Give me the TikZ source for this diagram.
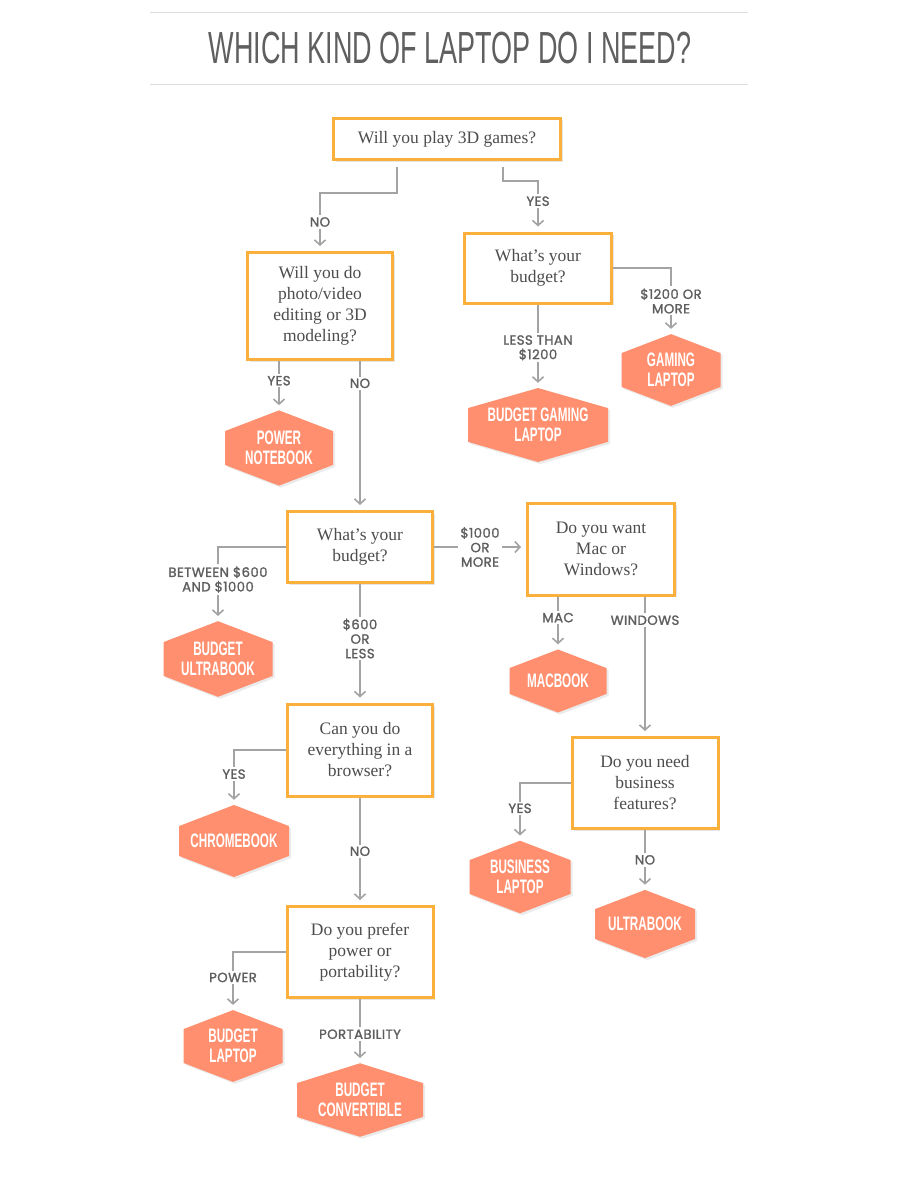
\documentclass[tikz,border=0pt]{standalone}
\usepackage{fontspec}
\setmainfont{Liberation Serif}
\newfontfamily\condfont[FakeStretch=0.6]{Liberation Sans}
\newfontfamily\lblfont[FakeBold=1.4,LetterSpace=3]{Poppins}
\usetikzlibrary{arrows.meta,positioning,shapes.symbols,shadows}
\definecolor{boxorange}{HTML}{FBB03B}
\definecolor{hexsalmon}{HTML}{FF8F6E}
\definecolor{linegray}{HTML}{A3A3A3}
\definecolor{txtgray}{HTML}{4D4D4D}
\definecolor{lblgray}{HTML}{5E5E5E}
\definecolor{rulegray}{HTML}{DDDDDD}

\begin{document}
\begin{tikzpicture}[x=1pt,y=-1pt,>={Straight Barb[length=5pt,width=11pt]},
  qbox/.style={draw=boxorange,line width=3pt,fill=white,align=center,text=txtgray,
    font=\fontsize{17.5}{21}\selectfont,inner sep=0pt,
    drop shadow={shadow xshift=2pt,shadow yshift=-2pt,fill=black!10,opacity=1}},
  hexa/.style={signal,signal to=north and south,signal pointer angle=138,fill=hexsalmon,
    text=white,align=center,font=\condfont\bfseries\fontsize{19.5}{20}\selectfont,
    inner xsep=0pt,inner ysep=0pt,minimum height=0pt,
    drop shadow={shadow xshift=2pt,shadow yshift=-2pt,fill=black!8,opacity=1}},
  lbl/.style={fill=white,text=lblgray,align=center,font=\lblfont\fontsize{13.3}{14.5}\selectfont,inner sep=2pt},
  conn/.style={draw=linegray,line width=1.6pt,->,shorten >=5pt}]
\useasboundingbox[fill=white] (0,0) rectangle (900,1180);

% title
\draw[rulegray,line width=0.8pt] (150,12) -- (748,12);
\draw[rulegray,line width=0.8pt] (150,84) -- (748,84);
\node[text=txtgray!90,font=\condfont\fontsize{45}{45}\selectfont] (title) at (450,48) {WHICH KIND OF LAPTOP DO I NEED?};

% questions
\node[qbox,minimum width=227pt,minimum height=41pt] (games) at (447,139) {Will you play 3D games?};
\node[qbox,minimum width=145pt,minimum height=107pt] (editing) at (320,306) {Will you do\\photo/video\\editing or 3D\\modeling?};
\node[qbox,minimum width=147pt,minimum height=70pt] (gbudget) at (538,268) {What’s your\\budget?};
\node[qbox,minimum width=145pt,minimum height=71pt] (budget) at (360,547) {What’s your\\budget?};
\node[qbox,minimum width=147pt,minimum height=92pt] (macwin) at (601,549) {Do you want\\Mac or\\Windows?};
\node[qbox,minimum width=145pt,minimum height=92pt] (browser) at (360,750) {Can you do\\everything in a\\browser?};
\node[qbox,minimum width=146pt,minimum height=91pt] (business) at (645,783) {Do you need\\business\\features?};
\node[qbox,minimum width=146pt,minimum height=91pt] (portab) at (360,952) {Do you prefer\\power or\\portability?};

% answers
\node[hexa,minimum width=99pt] (gaming) at (671,370) {GAMING\\LAPTOP};
\node[hexa,minimum width=140pt,signal pointer angle=148] (bgaming) at (538,425) {BUDGET GAMING\\LAPTOP};
\node[hexa,minimum width=108pt] (power) at (279,448) {POWER\\NOTEBOOK};
\node[hexa,minimum width=109pt] (bultra) at (218,659) {BUDGET\\ULTRABOOK};
\node[hexa,minimum width=97pt,inner ysep=6pt] (macbook) at (558,681) {MACBOOK};
\node[hexa,minimum width=110pt,inner ysep=8pt] (chrome) at (234,841) {CHROMEBOOK};
\node[hexa,minimum width=101pt] (blaptop) at (520,877) {BUSINESS\\LAPTOP};
\node[hexa,minimum width=100pt,inner ysep=8pt] (ultra) at (645,924) {ULTRABOOK};
\node[hexa,minimum width=99pt] (budlaptop) at (233,1046) {BUDGET\\LAPTOP};
\node[hexa,minimum width=126pt,signal pointer angle=145] (bconv) at (360,1100) {BUDGET\\CONVERTIBLE};

% connectors
\draw[conn,shorten <=6pt] ([xshift=-50pt]games.south) -- ++(0,32) -| node[lbl,pos=0.75]{NO} (editing);
\draw[conn,shorten <=6pt] ([xshift=56pt]games.south) -- ++(0,20) -| node[lbl,pos=0.7]{YES} (gbudget);
\draw[conn] (gbudget.east) -| node[lbl,pos=0.75]{\$1200 OR\\MORE} (gaming);
\draw[conn] (gbudget) -- node[lbl,pos=0.52]{LESS THAN\\\$1200} (bgaming);
\draw[conn] (editing.south -| power) -- node[lbl,pos=0.4]{YES} (power);
\draw[conn] (editing.south -| budget) -- node[lbl,pos=0.15]{NO} (budget);
\draw[conn] (budget.west) -| node[lbl,pos=0.72]{BETWEEN \$600\\AND \$1000} (bultra);
\draw[conn] (budget.east) -- node[lbl]{\$1000\\OR\\MORE} (budget.east -| macwin.west);
\draw[conn] (budget) -- node[lbl,pos=0.46]{\$600\\OR\\LESS} (browser);
\draw[conn] (macwin.south -| macbook) -- node[lbl,pos=0.4]{MAC} (macbook);
\draw[conn] (macwin.south -| business) -- node[lbl,pos=0.17]{WINDOWS} (business);
\draw[conn] (browser.west) -| node[lbl,pos=0.72]{YES} (chrome);
\draw[conn] (browser) -- node[lbl,pos=0.5]{NO} (portab);
\draw[conn] (business.west) -| node[lbl,pos=0.72]{YES} (blaptop);
\draw[conn] (business) -- node[lbl,pos=0.5]{NO} (ultra);
\draw[conn] (portab.west) -| node[lbl,pos=0.72]{POWER} (budlaptop);
\draw[conn] (portab) -- node[lbl,pos=0.55]{PORTABILITY} (bconv);
\end{tikzpicture}
\end{document}
